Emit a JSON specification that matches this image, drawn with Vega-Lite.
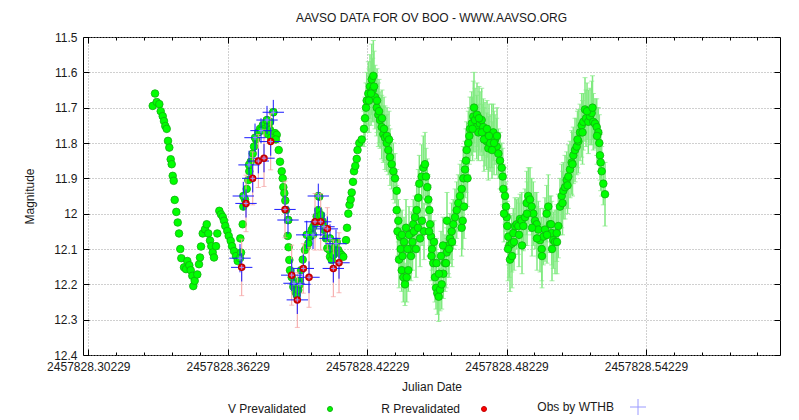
{
"$schema":"https://vega.github.io/schema/vega-lite/v6.json",
"width":697,"height":318,
"autosize":{"type":"none"},
"padding":{"left":83,"top":37,"right":19,"bottom":65},
"title":{"text":"AAVSO DATA FOR OV BOO - WWW.AAVSO.ORG","fontSize":12,"fontWeight":"normal","font":"Liberation Sans","color":"#1a1a1a","offset":6,"anchor":"middle"},
"config":{"view":{"stroke":"#000","strokeWidth":1},"font":"Liberation Sans",
"axis":{"labelFont":"Liberation Sans","titleFont":"Liberation Sans","labelFontSize":12,"titleFontSize":12,"titleFontWeight":"normal","labelColor":"#1a1a1a","titleColor":"#1a1a1a","tickColor":"#000","gridColor":"#a0a0a0","gridDash":[1,2],"domain":false,"tickCount":100,"labelOverlap":false}},
"datasets":{
"v":[
{"t":2457828.33001,"m":11.695,"e":0.005},{"t":2457828.33100,"m":11.66,"e":0.005},{"t":2457828.33173,"m":11.684,"e":0.005},{"t":2457828.33285,"m":11.69,"e":0.005},{"t":2457828.33345,"m":11.71,"e":0.005},{"t":2457828.33431,"m":11.724,"e":0.005},{"t":2457828.33487,"m":11.738,"e":0.005},{"t":2457828.33543,"m":11.752,"e":0.005},{"t":2457828.33603,"m":11.76,"e":0.005},{"t":2457828.33659,"m":11.794,"e":0.005},{"t":2457828.33715,"m":11.813,"e":0.005},{"t":2457828.33775,"m":11.846,"e":0.005},{"t":2457828.33818,"m":11.86,"e":0.005},{"t":2457828.33861,"m":11.893,"e":0.005},{"t":2457828.33904,"m":11.907,"e":0.005},{"t":2457828.33947,"m":11.961,"e":0.005},{"t":2457828.34016,"m":11.995,"e":0.005},{"t":2457828.34077,"m":12.025,"e":0.005},{"t":2457828.34133,"m":12.056,"e":0.005},{"t":2457828.34188,"m":12.1,"e":0.005},{"t":2457828.34232,"m":12.126,"e":0.005},{"t":2457828.34348,"m":12.152,"e":0.005},{"t":2457828.34434,"m":12.157,"e":0.005},{"t":2457828.3449,"m":12.134,"e":0.005},{"t":2457828.34576,"m":12.146,"e":0.005},{"t":2457828.34636,"m":12.16,"e":0.005},{"t":2457828.34705,"m":12.176,"e":0.005},{"t":2457828.34748,"m":12.205,"e":0.005},{"t":2457828.34808,"m":12.19,"e":0.005},{"t":2457828.3492,"m":12.172,"e":0.005},{"t":2457828.34993,"m":12.143,"e":0.005},{"t":2457828.35036,"m":12.124,"e":0.005},{"t":2457828.35079,"m":12.093,"e":0.005},{"t":2457828.35153,"m":12.056,"e":0.005},{"t":2457828.35252,"m":12.044,"e":0.005},{"t":2457828.35325,"m":12.03,"e":0.005},{"t":2457828.35394,"m":12.056,"e":0.005},{"t":2457828.35467,"m":12.076,"e":0.005},{"t":2457828.35523,"m":12.092,"e":0.005},{"t":2457828.35583,"m":12.11,"e":0.005},{"t":2457828.35639,"m":12.124,"e":0.005},{"t":2457828.35725,"m":12.092,"e":0.005},{"t":2457828.35781,"m":12.056,"e":0.005},{"t":2457828.35867,"m":11.992,"e":0.005},{"t":2457828.3594,"m":12.002,"e":0.005},{"t":2457828.36014,"m":12.009,"e":0.005},{"t":2457828.36069,"m":12.02,"e":0.005},{"t":2457828.36125,"m":12.035,"e":0.005},{"t":2457828.36211,"m":12.049,"e":0.005},{"t":2457828.36272,"m":12.063,"e":0.005},{"t":2457828.36358,"m":12.077,"e":0.005},{"t":2457828.36414,"m":12.092,"e":0.005},{"t":2457828.365,"m":12.106,"e":0.005},{"t":2457828.36586,"m":12.12,"e":0.005},{"t":2457828.36659,"m":12.134,"e":0.005},
{"t":2457828.36771,"m":12.07,"e":0.005},{"t":2457828.36801,"m":12.11,"e":0.005},{"t":2457828.36874,"m":12.03,"e":0.005},{"t":2457828.369,"m":11.98,"e":0.005},{"t":2457828.36973,"m":11.96,"e":0.005},{"t":2457828.37046,"m":11.93,"e":0.005},{"t":2457828.37115,"m":11.905,"e":0.005},{"t":2457828.37158,"m":11.88,"e":0.005},{"t":2457828.37219,"m":11.853,"e":0.005},{"t":2457828.37305,"m":11.83,"e":0.005},{"t":2457828.37361,"m":11.81,"e":0.005},{"t":2457828.37447,"m":11.79,"e":0.005},{"t":2457828.37546,"m":11.77,"e":0.005},{"t":2457828.37619,"m":11.76,"e":0.005},{"t":2457828.37735,"m":11.75,"e":0.005},{"t":2457828.37834,"m":11.76,"e":0.005},{"t":2457828.37907,"m":11.736,"e":0.005},{"t":2457828.37976,"m":11.75,"e":0.005},{"t":2457828.3805,"m":11.763,"e":0.005},{"t":2457828.38192,"m":11.713,"e":0.005},{"t":2457828.38265,"m":11.772,"e":0.005},{"t":2457828.38338,"m":11.777,"e":0.005},{"t":2457828.3795,"m":11.775,"e":0.005},{"t":2457828.381,"m":11.785,"e":0.005},{"t":2457828.383,"m":11.79,"e":0.005},{"t":2457828.3805,"m":11.74,"e":0.005},{"t":2457828.38424,"m":11.82,"e":0.005},{"t":2457828.3848,"m":11.853,"e":0.005},{"t":2457828.38553,"m":11.88,"e":0.005},{"t":2457828.38596,"m":11.9,"e":0.005},{"t":2457828.38622,"m":11.925,"e":0.005},{"t":2457828.38665,"m":11.942,"e":0.005},{"t":2457828.38708,"m":11.963,"e":0.005},{"t":2457828.38738,"m":11.99,"e":0.005},{"t":2457828.38837,"m":12.018,"e":0.005},{"t":2457828.38811,"m":12.063,"e":0.005},{"t":2457828.3885,"m":12.095,"e":0.005},{"t":2457828.3888,"m":12.131,"e":0.005},{"t":2457828.3891,"m":12.16,"e":0.005},{"t":2457828.38984,"m":12.18,"e":0.005},{"t":2457828.39053,"m":12.207,"e":0.005},{"t":2457828.39126,"m":12.22,"e":0.005},{"t":2457828.39199,"m":12.23,"e":0.005},{"t":2457828.39268,"m":12.216,"e":0.005},{"t":2457828.39311,"m":12.19,"e":0.005},{"t":2457828.39384,"m":12.16,"e":0.005},{"t":2457828.39457,"m":12.13,"e":0.005},{"t":2457828.39556,"m":12.103,"e":0.005},{"t":2457828.39629,"m":12.094,"e":0.005},{"t":2457828.39698,"m":12.084,"e":0.005},{"t":2457828.39771,"m":12.065,"e":0.005},{"t":2457828.39844,"m":12.046,"e":0.005},{"t":2457828.39913,"m":12.037,"e":0.005},{"t":2457828.39986,"m":12.027,"e":0.005},{"t":2457828.40059,"m":12.008,"e":0.005},{"t":2457828.40128,"m":11.99,"e":0.005},{"t":2457828.40171,"m":11.952,"e":0.005},{"t":2457828.40245,"m":12.004,"e":0.005},{"t":2457828.40318,"m":12.022,"e":0.005},{"t":2457828.40387,"m":12.046,"e":0.005},{"t":2457828.4046,"m":12.07,"e":0.005},{"t":2457828.40516,"m":12.098,"e":0.005},{"t":2457828.40602,"m":12.103,"e":0.005},{"t":2457828.40632,"m":12.122,"e":0.005},{"t":2457828.40705,"m":12.131,"e":0.005},{"t":2457828.40774,"m":12.117,"e":0.005},{"t":2457828.40847,"m":12.094,"e":0.005},{"t":2457828.4092,"m":12.08,"e":0.005},{"t":2457828.40989,"m":12.103,"e":0.005},{"t":2457828.41062,"m":12.112,"e":0.005},{"t":2457828.41135,"m":12.117,"e":0.005},{"t":2457828.41204,"m":12.122,"e":0.005},{"t":2457828.41321,"m":12.075,"e":0.005},{"t":2457828.41364,"m":12.04,"e":0.005},{"t":2457828.41421,"m":12.0,"e":0.005},{"t":2457828.41472,"m":11.975,"e":0.005},{"t":2457828.41523,"m":11.96,"e":0.005},{"t":2457828.41566,"m":11.94,"e":0.005},{"t":2457828.41622,"m":11.91,"e":0.005},{"t":2457828.41665,"m":11.88,"e":0.005},{"t":2457828.41721,"m":11.865,"e":0.005},{"t":2457828.41781,"m":11.845,"e":0.005},{"t":2457828.41816,"m":11.82,"e":0.005},{"t":2457828.41893,"m":11.8,"e":0.005},{"t":2457828.41996,"m":11.79,"e":0.005},
{"t":2457828.36758,"m":12.126,"e":0.005},{"t":2457828.369,"m":11.95,"e":0.005},{"t":2457828.37146,"m":11.862,"e":0.005},{"t":2457828.37404,"m":11.785,"e":0.005},{"t":2457828.37662,"m":11.765,"e":0.005},{"t":2457828.3792,"m":11.735,"e":0.005},{"t":2457828.38191,"m":11.713,"e":0.005},{"t":2457828.38824,"m":12.018,"e":0.005},{"t":2457828.39082,"m":12.197,"e":0.005},{"t":2457828.39341,"m":12.2,"e":0.005},{"t":2457828.39629,"m":12.06,"e":0.005},{"t":2457828.399,"m":12.06,"e":0.005},{"t":2457828.40128,"m":11.95,"e":0.005},{"t":2457828.40374,"m":12.037,"e":0.005},{"t":2457828.40632,"m":12.07,"e":0.005},{"t":2457828.4089,"m":12.085,"e":0.005},
{"t":2457828.42095,"m":11.76,"e":0.05},{"t":2457828.42138,"m":11.73,"e":0.06},{"t":2457828.42181,"m":11.7,"e":0.07},{"t":2457828.42211,"m":11.68,"e":0.08},{"t":2457828.4228,"m":11.66,"e":0.09},{"t":2457828.42354,"m":11.64,"e":0.09},{"t":2457828.42427,"m":11.62,"e":0.1},{"t":2457828.42496,"m":11.61,"e":0.1},{"t":2457828.4247,"m":11.65,"e":0.09},{"t":2457828.42569,"m":11.67,"e":0.09},{"t":2457828.42642,"m":11.7,"e":0.08},{"t":2457828.42711,"m":11.72,"e":0.09},{"t":2457828.42784,"m":11.735,"e":0.08},{"t":2457828.42857,"m":11.755,"e":0.09},{"t":2457828.42926,"m":11.775,"e":0.08},{"t":2457828.42999,"m":11.785,"e":0.09},{"t":2457828.43072,"m":11.8,"e":0.08},{"t":2457828.43141,"m":11.82,"e":0.07},{"t":2457828.43214,"m":11.84,"e":0.08},{"t":2457828.43287,"m":11.86,"e":0.07},{"t":2457828.43356,"m":11.88,"e":0.08},{"t":2457828.43429,"m":11.9,"e":0.07},{"t":2457828.43502,"m":11.935,"e":0.06},{"t":2457828.43502,"m":11.99,"e":0.07},{"t":2457828.43571,"m":12.02,"e":0.06},{"t":2457828.43645,"m":12.065,"e":0.07},{"t":2457828.43675,"m":12.1,"e":0.06},{"t":2457828.43718,"m":12.16,"e":0.06},{"t":2457828.43787,"m":12.18,"e":0.07},{"t":2457828.4386,"m":12.2,"e":0.06},{"t":2457828.43933,"m":12.18,"e":0.07},{"t":2457828.44002,"m":12.16,"e":0.06},{"t":2457828.44075,"m":12.1,"e":0.07},{"t":2457828.44148,"m":12.055,"e":0.06},{"t":2457828.44217,"m":12.03,"e":0.07},{"t":2457828.4429,"m":12.01,"e":0.06},{"t":2457828.44363,"m":11.99,"e":0.07},{"t":2457828.44432,"m":11.955,"e":0.08},{"t":2457828.44475,"m":11.915,"e":0.08},{"t":2457828.44579,"m":11.895,"e":0.09},{"t":2457828.44648,"m":11.87,"e":0.09},{"t":2457828.44721,"m":11.86,"e":0.09},{"t":2457828.44764,"m":11.895,"e":0.08},{"t":2457828.4482,"m":11.925,"e":0.08},{"t":2457828.44863,"m":11.96,"e":0.07},{"t":2457828.44906,"m":11.99,"e":0.07},{"t":2457828.44936,"m":12.03,"e":0.06},{"t":2457828.44979,"m":12.065,"e":0.07},{"t":2457828.45022,"m":12.1,"e":0.06},{"t":2457828.45078,"m":12.14,"e":0.06},{"t":2457828.45151,"m":12.18,"e":0.07},{"t":2457828.45194,"m":12.21,"e":0.06},{"t":2457828.4525,"m":12.225,"e":0.06},{"t":2457828.4531,"m":12.235,"e":0.07},{"t":2457828.45366,"m":12.215,"e":0.06},{"t":2457828.45439,"m":12.2,"e":0.07},{"t":2457828.45508,"m":12.17,"e":0.07},{"t":2457828.45581,"m":12.14,"e":0.08},{"t":2457828.45654,"m":12.11,"e":0.07},{"t":2457828.45723,"m":12.09,"e":0.08},{"t":2457828.45797,"m":12.07,"e":0.07},{"t":2457828.4587,"m":12.05,"e":0.08},{"t":2457828.45939,"m":12.03,"e":0.07},{"t":2457828.46012,"m":12.01,"e":0.08},{"t":2457828.46085,"m":11.99,"e":0.08},{"t":2457828.46154,"m":11.97,"e":0.08},{"t":2457828.46227,"m":11.95,"e":0.09},{"t":2457828.463,"m":11.93,"e":0.08},{"t":2457828.46369,"m":11.9,"e":0.09},{"t":2457828.46442,"m":11.875,"e":0.08},{"t":2457828.46485,"m":11.85,"e":0.09},{"t":2457828.46515,"m":11.82,"e":0.08},{"t":2457828.46584,"m":11.8,"e":0.09},{"t":2457828.46627,"m":11.78,"e":0.08},{"t":2457828.46658,"m":11.76,"e":0.09},{"t":2457828.46731,"m":11.745,"e":0.09},{"t":2457828.468,"m":11.725,"e":0.1},{"t":2457828.46873,"m":11.735,"e":0.09},{"t":2457828.46946,"m":11.755,"e":0.09},{"t":2457828.47015,"m":11.77,"e":0.08},{"t":2457828.47088,"m":11.745,"e":0.09},{"t":2457828.47161,"m":11.735,"e":0.09},{"t":2457828.4723,"m":11.755,"e":0.08},{"t":2457828.47303,"m":11.775,"e":0.09},{"t":2457828.47376,"m":11.795,"e":0.08},{"t":2457828.47445,"m":11.815,"e":0.09},{"t":2457828.47519,"m":11.8,"e":0.08},{"t":2457828.47592,"m":11.78,"e":0.09},{"t":2457828.47661,"m":11.77,"e":0.08},{"t":2457828.47734,"m":11.79,"e":0.07},{"t":2457828.47807,"m":11.81,"e":0.08},{"t":2457828.47876,"m":11.83,"e":0.07},{"t":2457828.47949,"m":11.85,"e":0.08},{"t":2457828.48022,"m":11.87,"e":0.07},{"t":2457828.48065,"m":11.895,"e":0.08},{"t":2457828.48091,"m":11.93,"e":0.07},{"t":2457828.48164,"m":11.95,"e":0.08},{"t":2457828.48207,"m":11.98,"e":0.07},{"t":2457828.48237,"m":12.01,"e":0.08},{"t":2457828.48263,"m":12.035,"e":0.07},{"t":2457828.48306,"m":12.065,"e":0.08},{"t":2457828.48349,"m":12.09,"e":0.09},{"t":2457828.48379,"m":12.13,"e":0.09},{"t":2457828.48452,"m":12.085,"e":0.08},{"t":2457828.48521,"m":12.055,"e":0.07},{"t":2457828.48594,"m":12.035,"e":0.08},{"t":2457828.48667,"m":12.03,"e":0.07},{"t":2457828.48736,"m":12.035,"e":0.08},{"t":2457828.4881,"m":12.015,"e":0.07},{"t":2457828.48883,"m":12.02,"e":0.08},{"t":2457828.48952,"m":12.035,"e":0.07},{"t":2457828.49025,"m":12.01,"e":0.08},{"t":2457828.49098,"m":11.97,"e":0.09},{"t":2457828.49167,"m":11.95,"e":0.08},{"t":2457828.4924,"m":11.96,"e":0.09},{"t":2457828.49313,"m":11.98,"e":0.08},{"t":2457828.49382,"m":12.0,"e":0.09},{"t":2457828.49455,"m":12.02,"e":0.08},{"t":2457828.49528,"m":12.03,"e":0.09},{"t":2457828.49597,"m":12.045,"e":0.08},{"t":2457828.49671,"m":12.075,"e":0.09},{"t":2457828.49744,"m":12.1,"e":0.09},{"t":2457828.49813,"m":12.065,"e":0.08},{"t":2457828.49886,"m":12.045,"e":0.09},{"t":2457828.49959,"m":12.0,"e":0.08},{"t":2457828.50028,"m":11.98,"e":0.09},{"t":2457828.50101,"m":12.03,"e":0.08},{"t":2457828.50174,"m":12.055,"e":0.09},{"t":2457828.50243,"m":12.075,"e":0.08},{"t":2457828.50316,"m":12.08,"e":0.09},{"t":2457828.50389,"m":12.055,"e":0.08},{"t":2457828.50458,"m":12.035,"e":0.09},{"t":2457828.50532,"m":11.98,"e":0.08},{"t":2457828.50605,"m":11.95,"e":0.09},{"t":2457828.50674,"m":11.935,"e":0.08},{"t":2457828.50747,"m":11.925,"e":0.09},{"t":2457828.5082,"m":11.905,"e":0.08},{"t":2457828.50889,"m":11.895,"e":0.09},{"t":2457828.50962,"m":11.875,"e":0.08},{"t":2457828.51035,"m":11.855,"e":0.09},{"t":2457828.51104,"m":11.835,"e":0.08},{"t":2457828.51177,"m":11.82,"e":0.09},{"t":2457828.5125,"m":11.81,"e":0.08},{"t":2457828.51319,"m":11.795,"e":0.09},{"t":2457828.51392,"m":11.77,"e":0.08},{"t":2457828.51465,"m":11.75,"e":0.09},{"t":2457828.51534,"m":11.74,"e":0.08},{"t":2457828.51607,"m":11.705,"e":0.09},{"t":2457828.51651,"m":11.73,"e":0.08},{"t":2457828.5175,"m":11.74,"e":0.09},{"t":2457828.51823,"m":11.725,"e":0.08},{"t":2457828.51896,"m":11.715,"e":0.09},{"t":2457828.51965,"m":11.74,"e":0.08},{"t":2457828.52038,"m":11.745,"e":0.07},{"t":2457828.52111,"m":11.755,"e":0.08},{"t":2457828.5218,"m":11.77,"e":0.07},{"t":2457828.52223,"m":11.8,"e":0.08},{"t":2457828.52253,"m":11.835,"e":0.07},{"t":2457828.52283,"m":11.855,"e":0.08},{"t":2457828.52326,"m":11.88,"e":0.07},{"t":2457828.52395,"m":11.915,"e":0.06},{"t":2457828.52468,"m":11.945,"e":0.09},
{"t":2457828.43537,"m":12.05,"e":0.07},{"t":2457828.43602,"m":12.13,"e":0.08},{"t":2457828.43731,"m":12.06,"e":0.07},{"t":2457828.43752,"m":12.12,"e":0.08},{"t":2457828.43817,"m":12.08,"e":0.07},{"t":2457828.43903,"m":12.04,"e":0.08},{"t":2457828.43968,"m":12.1,"e":0.07},{"t":2457828.44032,"m":12.06,"e":0.08},{"t":2457828.44118,"m":12.12,"e":0.07},{"t":2457828.44183,"m":12.08,"e":0.08},{"t":2457828.44247,"m":12.05,"e":0.07},{"t":2457828.44333,"m":12.1,"e":0.08},{"t":2457828.4442,"m":12.04,"e":0.07},{"t":2457828.44506,"m":12.07,"e":0.08},{"t":2457828.44592,"m":12.02,"e":0.07},{"t":2457828.44678,"m":12.05,"e":0.08},{"t":2457828.44893,"m":12.05,"e":0.07},{"t":2457828.45001,"m":12.12,"e":0.07},{"t":2457828.45108,"m":12.08,"e":0.06},{"t":2457828.45216,"m":12.14,"e":0.07},{"t":2457828.45323,"m":12.17,"e":0.06},{"t":2457828.45409,"m":12.12,"e":0.07},{"t":2457828.45495,"m":12.09,"e":0.08},{"t":2457828.45624,"m":12.14,"e":0.07},{"t":2457828.45754,"m":12.1,"e":0.08},{"t":2457828.45883,"m":12.08,"e":0.07},{"t":2457828.45667,"m":12.02,"e":0.08},{"t":2457828.463,"m":12.04,"e":0.08},{"t":2457828.46343,"m":12.02,"e":0.08},{"t":2457828.46399,"m":11.98,"e":0.09},{"t":2457828.4655,"m":11.9,"e":0.08},{"t":2457828.46766,"m":11.76,"e":0.09},{"t":2457828.4683,"m":11.7,"e":0.1},{"t":2457828.46959,"m":11.72,"e":0.09},{"t":2457828.47045,"m":11.73,"e":0.09},{"t":2457828.47174,"m":11.77,"e":0.08},{"t":2457828.4726,"m":11.79,"e":0.09},{"t":2457828.47389,"m":11.76,"e":0.08},{"t":2457828.47476,"m":11.78,"e":0.09},{"t":2457828.47605,"m":11.82,"e":0.08},{"t":2457828.47691,"m":11.8,"e":0.09},{"t":2457828.4782,"m":11.78,"e":0.08},{"t":2457828.48121,"m":12.0,"e":0.08},{"t":2457828.48293,"m":12.1,"e":0.09},{"t":2457828.48465,"m":12.12,"e":0.09},{"t":2457828.48551,"m":12.08,"e":0.08},{"t":2457828.48767,"m":12.06,"e":0.09},{"t":2457828.48896,"m":12.09,"e":0.08},{"t":2457828.49111,"m":12.0,"e":0.09},{"t":2457828.49326,"m":12.04,"e":0.08},{"t":2457828.49541,"m":12.07,"e":0.09},{"t":2457828.49756,"m":12.12,"e":0.09},{"t":2457828.49971,"m":12.06,"e":0.08},{"t":2457828.50187,"m":12.1,"e":0.09},{"t":2457828.50402,"m":12.08,"e":0.09},{"t":2457828.50144,"m":12.03,"e":0.08},{"t":2457828.50639,"m":11.97,"e":0.09},{"t":2457828.50854,"m":11.92,"e":0.08},{"t":2457828.51069,"m":11.86,"e":0.09},{"t":2457828.51285,"m":11.79,"e":0.08},{"t":2457828.515,"m":11.77,"e":0.09},{"t":2457828.51694,"m":11.71,"e":0.08},{"t":2457828.5193,"m":11.7,"e":0.09},{"t":2457828.52124,"m":11.78,"e":0.08},{"t":2457828.42311,"m":11.68,"e":0.09},{"t":2457828.42397,"m":11.66,"e":0.09},{"t":2457828.42526,"m":11.64,"e":0.1},{"t":2457828.42655,"m":11.68,"e":0.09},{"t":2457828.42741,"m":11.71,"e":0.09},{"t":2457828.4287,"m":11.73,"e":0.08},{"t":2457828.42956,"m":11.76,"e":0.09},{"t":2457828.43085,"m":11.78,"e":0.08},{"t":2457828.43171,"m":11.79,"e":0.08}
],
"r":[
{"t":2457828.36831,"m":12.152,"e":0.08},{"t":2457828.37016,"m":11.971,"e":0.08},{"t":2457828.37305,"m":11.9,"e":0.075},{"t":2457828.37546,"m":11.851,"e":0.075},{"t":2457828.37791,"m":11.843,"e":0.08},{"t":2457828.38079,"m":11.796,"e":0.08},{"t":2457828.38695,"m":11.988,"e":0.08},{"t":2457828.38983,"m":12.174,"e":0.085},{"t":2457828.39224,"m":12.244,"e":0.078},{"t":2457828.39483,"m":12.155,"e":0.07},{"t":2457828.39728,"m":12.18,"e":0.085},{"t":2457828.39986,"m":12.023,"e":0.08},{"t":2457828.40232,"m":12.023,"e":0.08},{"t":2457828.40516,"m":12.043,"e":0.06},{"t":2457828.40774,"m":12.155,"e":0.08},{"t":2457828.41019,"m":12.139,"e":0.085}
],
"w":[
{"t":2457828.36831,"m":12.152,"e":0.04,"te":0.0046},{"t":2457828.37016,"m":11.971,"e":0.04,"te":0.0046},{"t":2457828.37305,"m":11.9,"e":0.04,"te":0.0046},{"t":2457828.37546,"m":11.851,"e":0.035,"te":0.0046},{"t":2457828.37791,"m":11.843,"e":0.04,"te":0.0046},{"t":2457828.38079,"m":11.796,"e":0.04,"te":0.0046},{"t":2457828.38695,"m":11.988,"e":0.04,"te":0.0046},{"t":2457828.38983,"m":12.174,"e":0.045,"te":0.0046},{"t":2457828.39224,"m":12.244,"e":0.04,"te":0.0046},{"t":2457828.39483,"m":12.155,"e":0.04,"te":0.0046},{"t":2457828.39728,"m":12.18,"e":0.045,"te":0.0046},{"t":2457828.39986,"m":12.023,"e":0.04,"te":0.0046},{"t":2457828.40232,"m":12.023,"e":0.04,"te":0.0046},{"t":2457828.40516,"m":12.043,"e":0.035,"te":0.0046},{"t":2457828.40774,"m":12.155,"e":0.04,"te":0.0046},{"t":2457828.41019,"m":12.139,"e":0.045,"te":0.0046},
{"t":2457828.36758,"m":12.126,"e":0.04,"te":0.0046},{"t":2457828.369,"m":11.95,"e":0.04,"te":0.0046},{"t":2457828.37146,"m":11.862,"e":0.04,"te":0.0046},{"t":2457828.37404,"m":11.785,"e":0.04,"te":0.0046},{"t":2457828.37662,"m":11.765,"e":0.035,"te":0.0046},{"t":2457828.3792,"m":11.735,"e":0.04,"te":0.0046},{"t":2457828.38191,"m":11.713,"e":0.035,"te":0.0046},{"t":2457828.38824,"m":12.018,"e":0.04,"te":0.0046},{"t":2457828.39082,"m":12.197,"e":0.04,"te":0.0046},{"t":2457828.39341,"m":12.2,"e":0.04,"te":0.0046},{"t":2457828.39629,"m":12.06,"e":0.04,"te":0.0046},{"t":2457828.399,"m":12.06,"e":0.04,"te":0.0046},{"t":2457828.40128,"m":11.95,"e":0.035,"te":0.0046},{"t":2457828.40374,"m":12.037,"e":0.04,"te":0.0046},{"t":2457828.40632,"m":12.07,"e":0.04,"te":0.0046},{"t":2457828.4089,"m":12.085,"e":0.04,"te":0.0046}
]},
"layer":[
{"layer":[
{"data":{"name":"v"},"mark":{"type":"errorbar","color":"#80ea80","thickness":1.5,"ticks":{"size":5,"thickness":1},"clip":true},
 "encoding":{
  "x":{"field":"t","type":"quantitative","title":"Julian Date","scale":{"domain":[2457828.30,2457828.60],"zero":false,"nice":false},
   "axis":{"orient":"bottom","titlePadding":6,"tickCount":100,
    "values":[2457828.30229,2457828.31429,2457828.32629,2457828.33829,2457828.35029,2457828.36229,2457828.37429,2457828.38629,2457828.39829,2457828.41029,2457828.42229,2457828.43429,2457828.44629,2457828.45829,2457828.47029,2457828.48229,2457828.49429,2457828.50629,2457828.51829,2457828.53029,2457828.54229,2457828.55429,2457828.56629,2457828.57829,2457828.59029],
    "format":".5f","labelFlush":false,"labelOverlap":false,"labelPadding":12,
    "labelExpr":"abs((datum.value - 2457828.30229) / 0.06 - round((datum.value - 2457828.30229) / 0.06)) < 0.01 ? datum.label : ''",
    "tickSize":{"condition":{"test":"abs((datum.value - 2457828.30229) / 0.06 - round((datum.value - 2457828.30229) / 0.06)) < 0.01","value":-6},"value":-3},
    "grid":true,
    "gridOpacity":{"condition":{"test":"abs((datum.value - 2457828.30229) / 0.06 - round((datum.value - 2457828.30229) / 0.06)) < 0.01","value":1},"value":0}}},
  "y":{"field":"m","type":"quantitative","title":"Magnitude","scale":{"domain":[11.5,12.4],"reverse":true,"zero":false,"nice":false},
   "axis":{"orient":"left","tickCount":100,"labelOverlap":false,"values":[11.5,11.6,11.7,11.8,11.9,12,12.1,12.2,12.3,12.4],"format":"~g","tickSize":-6,"labelPadding":12,"grid":true,"titlePadding":17}},
  "yError":{"field":"e"}}},
{"data":{"name":"v"},"mark":{"type":"point","filled":true,"size":58,"strokeWidth":0.8,"opacity":1,"clip":true},
 "encoding":{"x":{"field":"t","type":"quantitative","title":"Julian Date"},"y":{"field":"m","type":"quantitative","title":"Magnitude"},
  "fill":{"datum":"V Prevalidated","type":"nominal","scale":{"domain":["V Prevalidated","R Prevalidated","Obs by WTHB"],"range":["#00ff00","#ff0000","transparent"]},
   "legend":{"orient":"none","legendX":241,"legendY":364,"direction":"horizontal","title":null,"labelFont":"Liberation Sans","labelFontSize":12,"labelColor":"#1a1a1a","labelAlign":"right","labelOffset":-30,"gridAlign":"all","columnPadding":41,"symbolSize":25,"symbolStrokeWidth":1,"labelLimit":200}},
  "stroke":{"datum":"V Prevalidated","type":"nominal","scale":{"domain":["V Prevalidated","R Prevalidated","Obs by WTHB"],"range":["#10b010","#c00000","#9a9aff"]},
   "legend":{"orient":"none","legendX":241,"legendY":364,"direction":"horizontal","title":null,"labelFont":"Liberation Sans","labelFontSize":12,"labelColor":"#1a1a1a","labelAlign":"right","labelOffset":-30,"gridAlign":"all","columnPadding":41,"symbolSize":25,"symbolStrokeWidth":1,"labelLimit":200}},
  "shape":{"datum":"V Prevalidated","type":"nominal","scale":{"domain":["V Prevalidated","R Prevalidated","Obs by WTHB"],"range":["circle","circle","M-3.2,0H3.2M0,-3.2V3.2"]},
   "legend":{"orient":"none","legendX":241,"legendY":364,"direction":"horizontal","title":null,"labelFont":"Liberation Sans","labelFontSize":12,"labelColor":"#1a1a1a","labelAlign":"right","labelOffset":-30,"gridAlign":"all","columnPadding":41,"symbolSize":25,"symbolStrokeWidth":1,"labelLimit":200}}}},
{"data":{"name":"r"},"mark":{"type":"errorbar","color":"#f5a0a0","thickness":1,"ticks":{"size":5,"thickness":1},"clip":true},
 "encoding":{"x":{"field":"t","type":"quantitative","title":"Julian Date"},"y":{"field":"m","type":"quantitative","title":"Magnitude"},"yError":{"field":"e"}}},
{"data":{"name":"w"},"mark":{"type":"errorbar","color":"#1a1aff","thickness":1,"ticks":false,"clip":true},
 "encoding":{"x":{"field":"t","type":"quantitative","title":"Julian Date"},"xError":{"field":"te"},"y":{"field":"m","type":"quantitative","title":"Magnitude"}}},
{"data":{"name":"w"},"mark":{"type":"errorbar","color":"#1a1aff","thickness":1,"ticks":false,"clip":true},
 "encoding":{"x":{"field":"t","type":"quantitative","title":"Julian Date"},"y":{"field":"m","type":"quantitative","title":"Magnitude"},"yError":{"field":"e"}}},
{"data":{"name":"r"},"mark":{"type":"point","filled":true,"size":36,"strokeWidth":1.5,"opacity":1,"clip":true},
 "encoding":{"x":{"field":"t","type":"quantitative","title":"Julian Date"},"y":{"field":"m","type":"quantitative","title":"Magnitude"},
  "fill":{"datum":"R Prevalidated","type":"nominal"},"stroke":{"datum":"R Prevalidated","type":"nominal"},"shape":{"datum":"R Prevalidated","type":"nominal"}}},
{"data":{"name":"w"},"mark":{"type":"point","filled":true,"size":2,"strokeWidth":1,"opacity":1,"clip":true},
 "encoding":{"x":{"field":"t","type":"quantitative","title":"Julian Date"},"y":{"field":"m","type":"quantitative","title":"Magnitude"},
  "fill":{"datum":"Obs by WTHB","type":"nominal"},"stroke":{"datum":"Obs by WTHB","type":"nominal"},"shape":{"datum":"Obs by WTHB","type":"nominal"}}}
]},
{"data":{"name":"r"},"mark":{"type":"point","opacity":0},
 "encoding":{
  "x":{"field":"t","type":"quantitative","axis":{"orient":"top","title":null,"labels":false,"grid":false,"tickCount":100,
    "values":[2457828.30229,2457828.31429,2457828.32629,2457828.33829,2457828.35029,2457828.36229,2457828.37429,2457828.38629,2457828.39829,2457828.41029,2457828.42229,2457828.43429,2457828.44629,2457828.45829,2457828.47029,2457828.48229,2457828.49429,2457828.50629,2457828.51829,2457828.53029,2457828.54229,2457828.55429,2457828.56629,2457828.57829,2457828.59029],
    "tickSize":{"condition":{"test":"abs((datum.value - 2457828.30229) / 0.06 - round((datum.value - 2457828.30229) / 0.06)) < 0.01","value":-6},"value":-3}}},
  "y":{"field":"m","type":"quantitative","axis":{"orient":"right","title":null,"labels":false,"grid":false,"tickCount":100,"values":[11.5,11.6,11.7,11.8,11.9,12,12.1,12.2,12.3,12.4],"tickSize":-6}}}}
],
"resolve":{"axis":{"x":"independent","y":"independent"}}
}
